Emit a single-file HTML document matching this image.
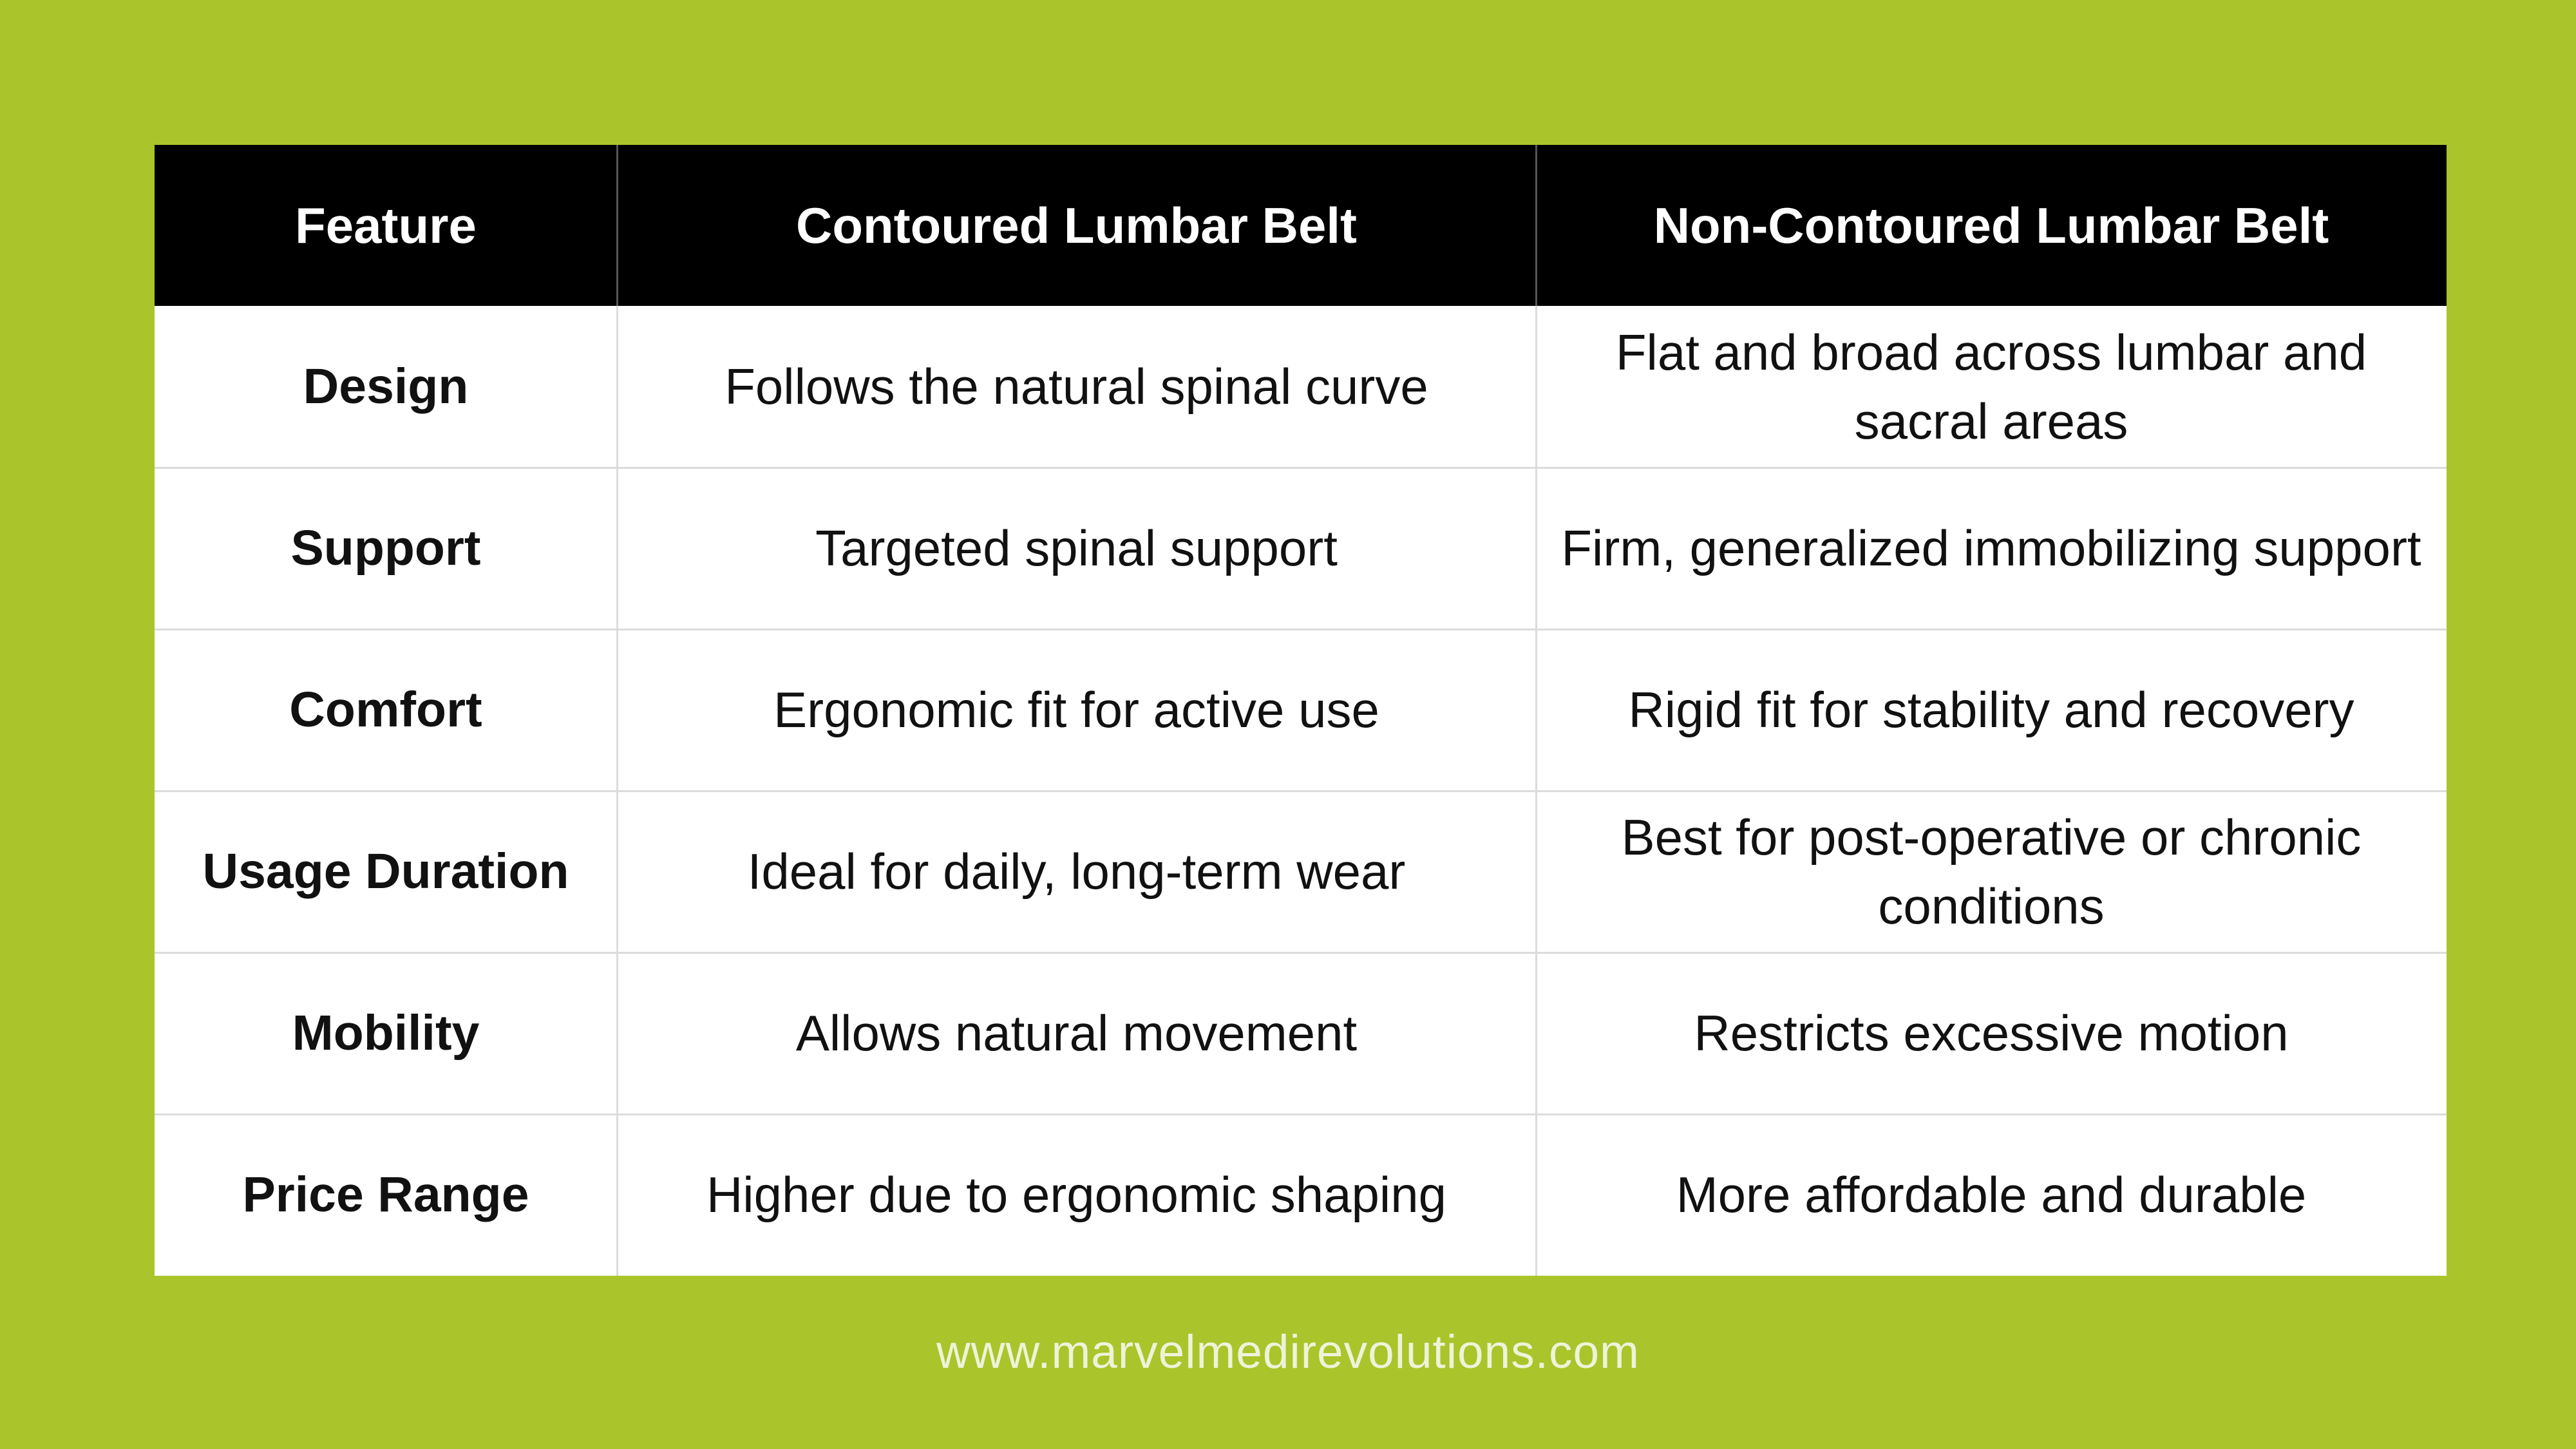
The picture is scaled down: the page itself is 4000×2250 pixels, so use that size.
<!DOCTYPE html>
<html><head><meta charset="utf-8"><style>
html,body{margin:0;padding:0;}
body{width:4000px;height:2250px;background:#aac42b;position:relative;overflow:hidden;font-family:"Liberation Sans",sans-serif;}
.c{position:absolute;display:flex;align-items:center;justify-content:center;text-align:center;font-size:78px;line-height:107px;color:#111;box-sizing:border-box;background:#fff;}
.h{background:#000;color:#fff;font-weight:bold;}
.f{font-weight:bold;font-size:77px;}
.vl{position:absolute;width:3px;background:#dcdcdc;}
.hl{position:absolute;height:3px;background:#dcdcdc;left:240px;width:3559px;}
.url{position:absolute;left:0;width:4000px;top:2058px;text-align:center;color:#eef3d8;font-size:73px;letter-spacing:1px;}
</style></head><body>
<div style="position:absolute;left:240px;top:225px;width:3559px;height:1756px;background:#fff;"></div>
<div class="c h" style="left:240px;top:225px;width:718px;height:250px">Feature</div>
<div class="c h" style="left:958px;top:225px;width:1427px;height:250px">Contoured Lumbar Belt</div>
<div class="c h" style="left:2385px;top:225px;width:1414px;height:250px">Non-Contoured Lumbar Belt</div>

<div class="c f" style="left:240px;top:475px;width:718px;height:251px">Design</div>
<div class="c" style="left:958px;top:475px;width:1427px;height:251px">Follows the natural spinal curve</div>
<div class="c" style="left:2385px;top:475px;width:1414px;height:251px">Flat and broad across lumbar and<br>sacral areas</div>

<div class="c f" style="left:240px;top:726px;width:718px;height:251px">Support</div>
<div class="c" style="left:958px;top:726px;width:1427px;height:251px">Targeted spinal support</div>
<div class="c" style="left:2385px;top:726px;width:1414px;height:251px;white-space:nowrap">Firm, generalized immobilizing support</div>

<div class="c f" style="left:240px;top:977px;width:718px;height:251px">Comfort</div>
<div class="c" style="left:958px;top:977px;width:1427px;height:251px">Ergonomic fit for active use</div>
<div class="c" style="left:2385px;top:977px;width:1414px;height:251px">Rigid fit for stability and recovery</div>

<div class="c f" style="left:240px;top:1228px;width:718px;height:251px">Usage Duration</div>
<div class="c" style="left:958px;top:1228px;width:1427px;height:251px">Ideal for daily, long-term wear</div>
<div class="c" style="left:2385px;top:1228px;width:1414px;height:251px">Best for post-operative or chronic<br>conditions</div>

<div class="c f" style="left:240px;top:1479px;width:718px;height:251px">Mobility</div>
<div class="c" style="left:958px;top:1479px;width:1427px;height:251px">Allows natural movement</div>
<div class="c" style="left:2385px;top:1479px;width:1414px;height:251px">Restricts excessive motion</div>

<div class="c f" style="left:240px;top:1730px;width:718px;height:251px">Price Range</div>
<div class="c" style="left:958px;top:1730px;width:1427px;height:251px">Higher due to ergonomic shaping</div>
<div class="c" style="left:2385px;top:1730px;width:1414px;height:251px">More affordable and durable</div>

<div class="vl" style="left:957px;top:225px;height:1756px;"></div>
<div class="vl" style="left:2384px;top:225px;height:1756px;"></div>
<div class="vl" style="left:957px;top:225px;height:250px;background:#555"></div>
<div class="vl" style="left:2384px;top:225px;height:250px;background:#555"></div>
<div class="hl" style="top:725px"></div>
<div class="hl" style="top:976px"></div>
<div class="hl" style="top:1227px"></div>
<div class="hl" style="top:1478px"></div>
<div class="hl" style="top:1729px"></div>

<div class="url">www.marvelmedirevolutions.com</div>
</body></html>
